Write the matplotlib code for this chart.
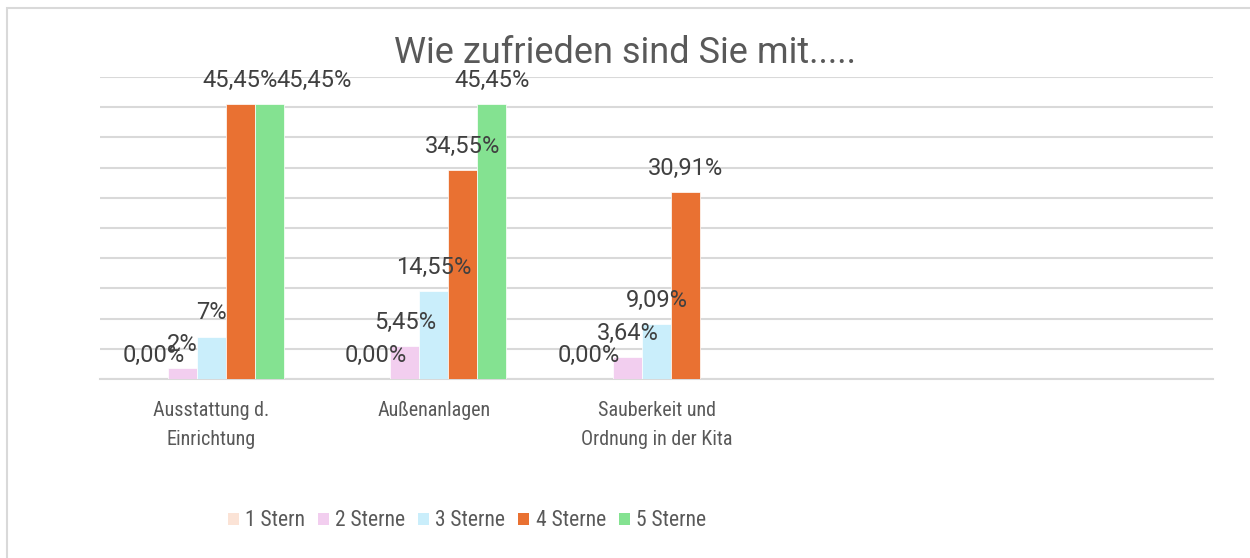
import matplotlib
matplotlib.use("Agg")
import matplotlib.pyplot as plt
from matplotlib.patches import Rectangle
import numpy as np

# Daten
kategorien = ["Ausstattung d.\nEinrichtung", "Außenanlagen", "Sauberkeit und\nOrdnung in der Kita"]
serien = ["1 Stern", "2 Sterne", "3 Sterne", "4 Sterne", "5 Sterne"]
beschriftung = {
    "1 Stern":  ["0,00%", "0,00%", "0,00%"],
    "2 Sterne": ["2%", "5,45%", "3,64%"],
    "3 Sterne": ["7%", "14,55%", "9,09%"],
    "4 Sterne": ["45,45%", "34,55%", "30,91%"],
    "5 Sterne": ["45,45%", "45,45%", None],
}
werte = {
    "1 Stern":  [0.0, 0.0, 0.0],
    "2 Sterne": [1.8, 5.45, 3.64],
    "3 Sterne": [7.0, 14.55, 9.09],
    "4 Sterne": [45.45, 34.55, 30.91],
    "5 Sterne": [45.45, 45.45, None],
}
farben = ["#FBE3D6", "#F2CEEF", "#CAEEFB", "#E97132", "#84E291"]

# Verschiebung einzelner Beschriftungen (Pixel), wie im Original
verschiebung = {("5 Sterne", 0): 45, ("1 Stern", 2): -10}

fig = plt.figure(figsize=(12.5, 5.58), dpi=100)
fig.patches.append(Rectangle((7 / 1250, -0.1), 1.2, 1 - 8 / 558 + 0.1, transform=fig.transFigure,
                             fill=False, edgecolor="#D9D9D9", linewidth=1.5))
ax = fig.add_axes([100 / 1250, 1 - 379 / 558, 1113 / 1250, 302 / 558])

breite = 0.13
x = np.arange(len(kategorien))
for i, s in enumerate(serien):
    pos = x + (i - 2) * breite
    for j, v in enumerate(werte[s]):
        if v is None:
            continue
        ax.bar(pos[j], v, width=breite, color=farben[i], edgecolor="white", linewidth=0.5, zorder=3)
        dx = verschiebung.get((s, j), 0) * 0.72
        ax.annotate(beschriftung[s][j], (pos[j], v), xytext=(dx, 12.5), textcoords="offset points",
                    ha="center", va="baseline", fontsize=17, color="#404040", family="Roboto", zorder=4)
    ax.bar(np.nan, np.nan, color=farben[i], label=s)

ax.set_xlim(-0.5, 4.5)
ax.set_ylim(0, 50)
ax.set_yticks(np.arange(0, 51, 5))
ax.yaxis.grid(True, color="#D9D9D9", linewidth=1.5, zorder=0)
ax.tick_params(axis="y", length=0, labelleft=False)
ax.set_xticks(x)
ax.set_xticklabels(kategorien, fontsize=14.5, color="#595959", family="Roboto Condensed",
                   linespacing=1.65)
ax.tick_params(axis="x", length=0, pad=16)
for sp in ["top", "right", "left"]:
    ax.spines[sp].set_visible(False)
ax.spines["bottom"].set_color("#D9D9D9")
ax.spines["bottom"].set_linewidth(1.5)

fig.text(0.5, 1 - 53 / 558, "Wie zufrieden sind Sie mit.....", ha="center", va="center",
         fontsize=26, color="#595959", family="Roboto")

fig.legend(loc="center", bbox_to_anchor=(467 / 1250, 1 - 521 / 558), ncol=5, frameon=False,
           prop={"family": "Roboto Condensed", "size": 15.5},
           labelcolor="#595959", handlelength=0.5, handleheight=0.5, handletextpad=0.3,
           columnspacing=0.6)

fig.savefig("out.png", dpi=100)
